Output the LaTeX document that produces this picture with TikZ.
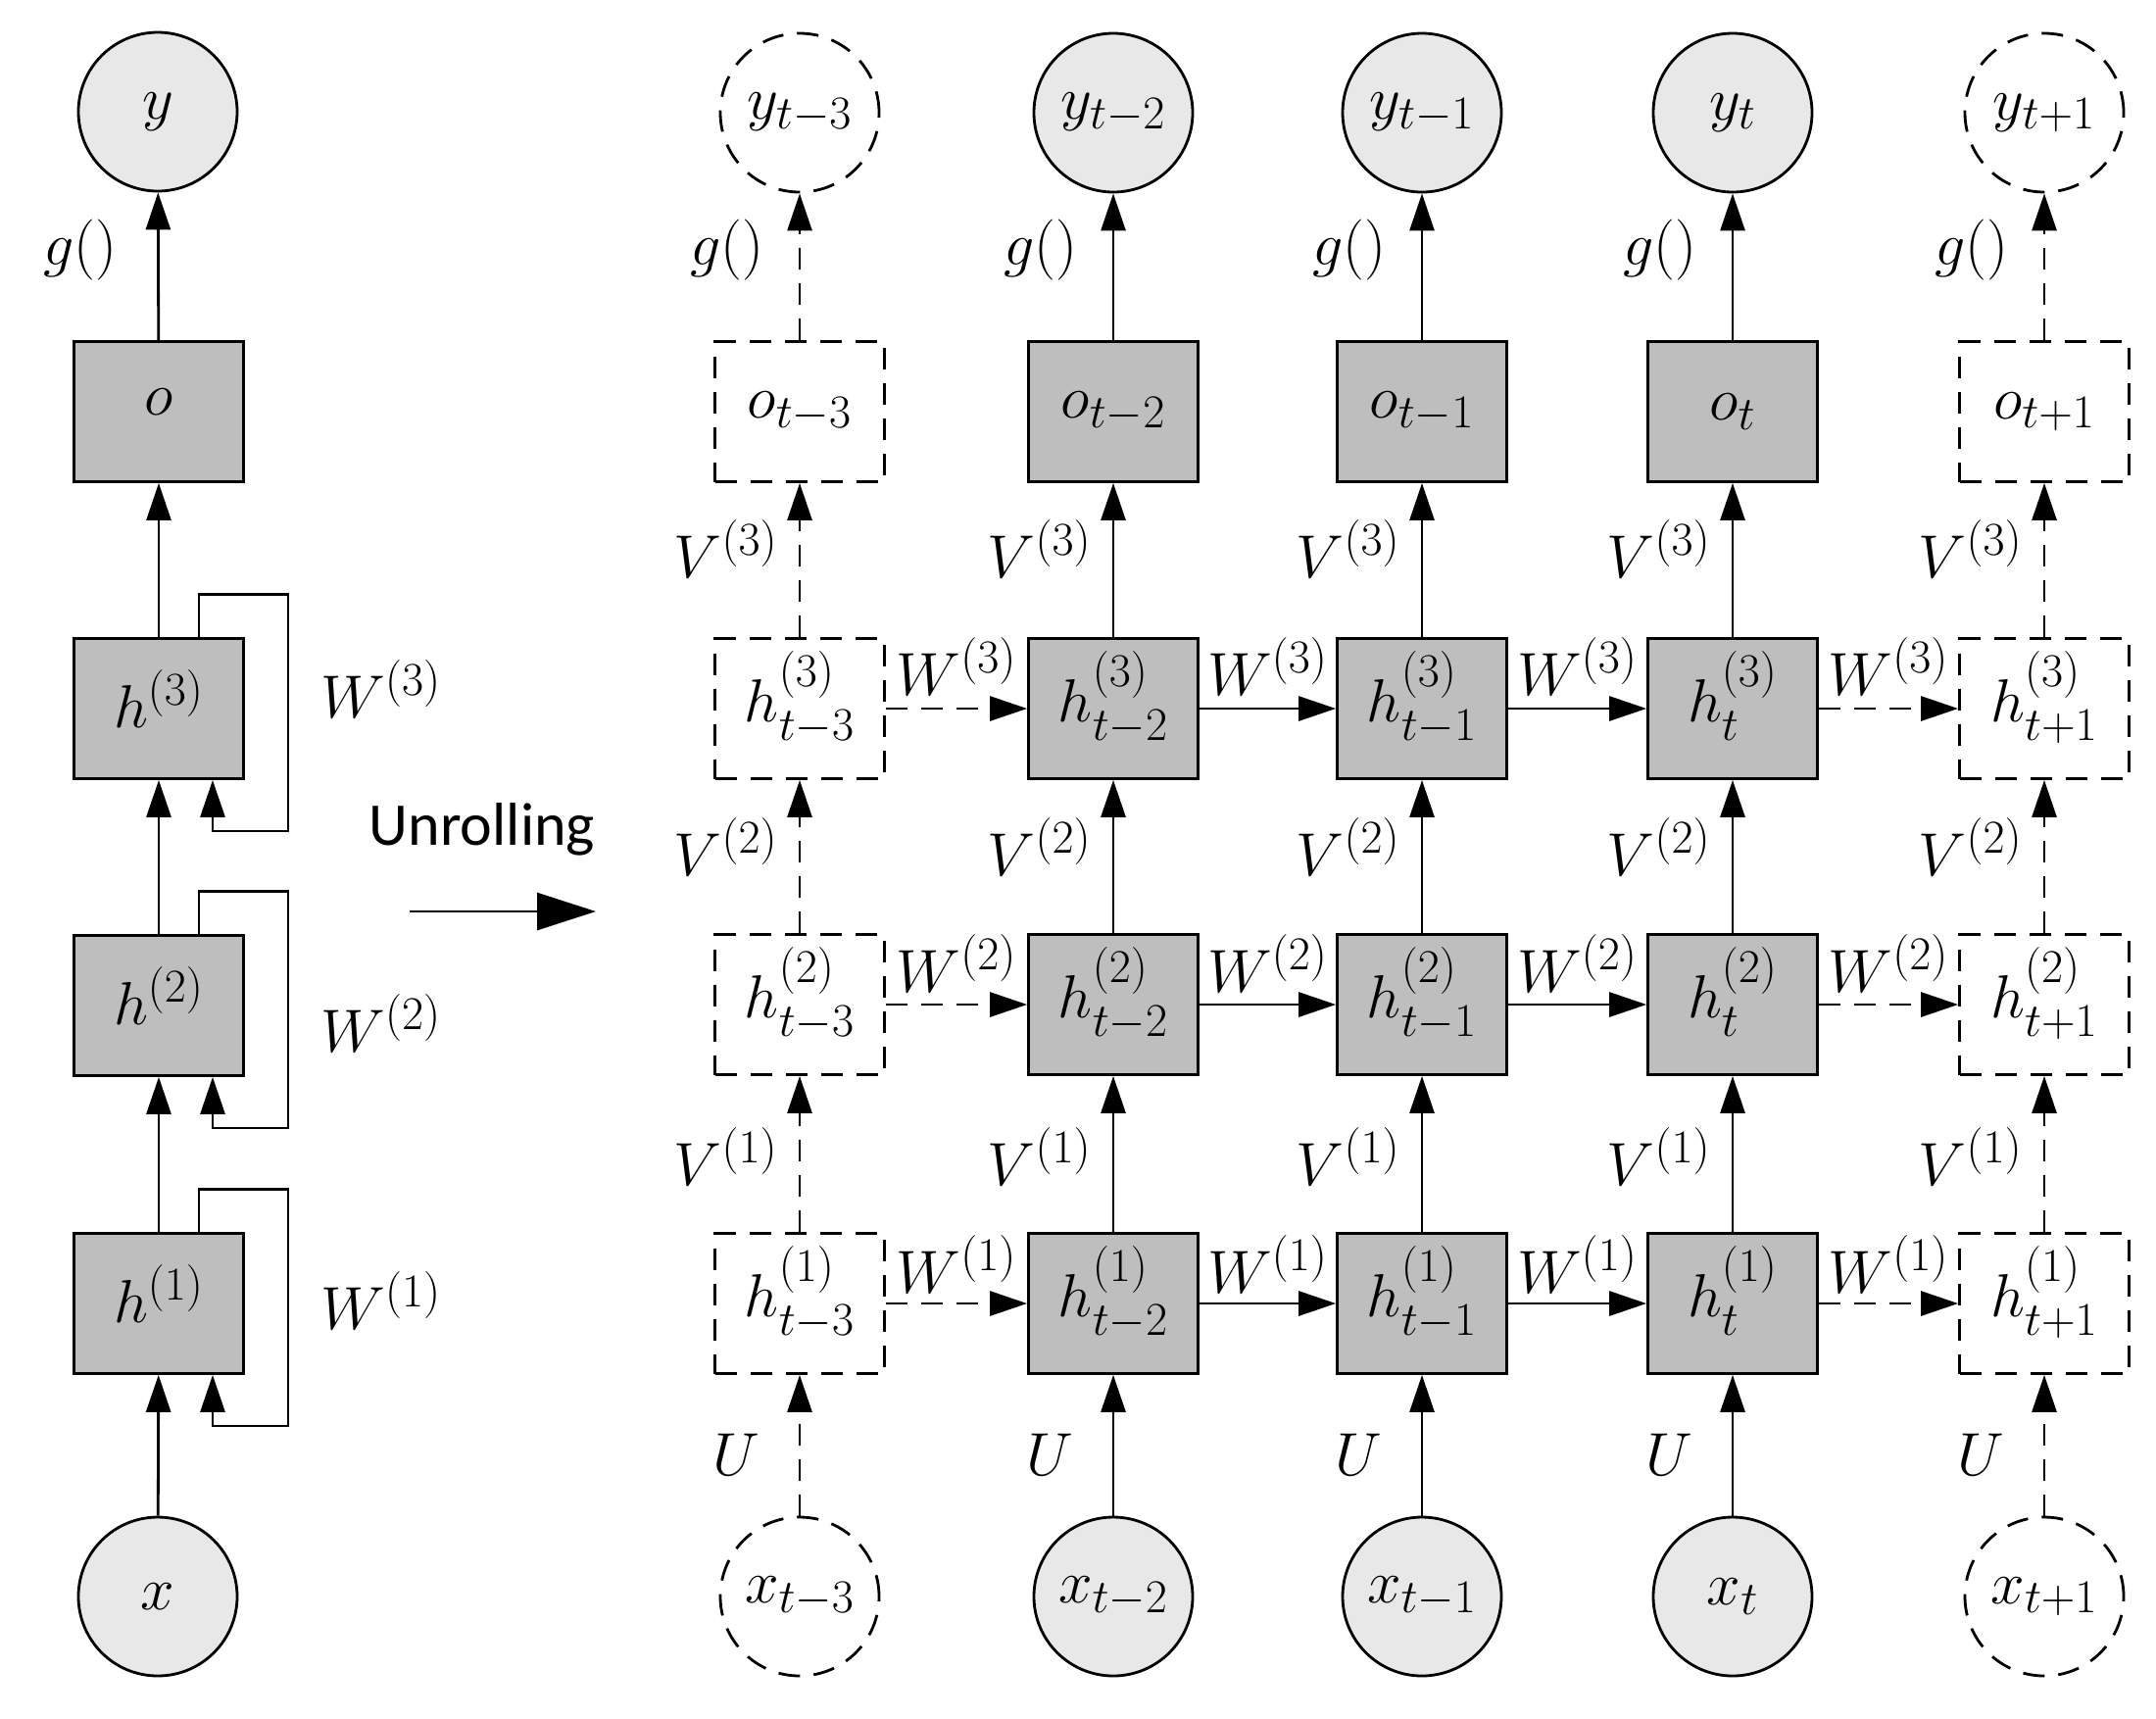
\RequirePackage{fix-cm}
\documentclass[tikz,border=0pt]{standalone}
\usepackage[no-math]{fontspec}
\newfontfamily\calib{Carlito}
\DeclareMathSizes{31}{31}{24}{17}
\usetikzlibrary{arrows.meta}
\definecolor{boxgray}{RGB}{190,190,190}
\definecolor{circgray}{RGB}{232,232,232}
\newcommand\hsupsub[2]{h^{\raisebox{6.5pt}{$\scriptstyle(#1)$}}_{\smash{\raisebox{-2pt}{$\scriptstyle #2$}}}}
\begin{document}
\begin{tikzpicture}[x=0.5pt,y=-0.5pt,
  every node/.style={font=\fontsize{31}{37}\selectfont},
  dsh/.style={dash pattern=on 11pt off 7pt},
  gbox/.style={draw, fill=boxgray, line width=1.4pt, minimum width=86.5pt, minimum height=71.5pt, inner sep=0pt},
  dbox/.style={draw, dsh, line width=1.4pt, minimum width=86.5pt, minimum height=71.5pt, inner sep=0pt},
  hlab/.style={text height=20pt, text depth=7pt},
  lhlab/.style={text height=31pt, text depth=12pt},
  gcirc/.style={circle, draw, fill=circgray, line width=1.4pt, minimum size=81pt, inner sep=0pt},
  dcirc/.style={circle, draw, dsh, line width=1.4pt, minimum size=81pt, inner sep=0pt},
  arr/.style={-{Triangle[length=19pt,width=12.5pt]}, line width=1.4pt},
  darr/.style={arr, dsh},
  elab/.style={anchor=east, inner sep=0pt},
  wlab/.style={inner sep=0pt}
]
\useasboundingbox (0,0) rectangle (2200,1753);

% ---------------- left (folded) network ----------------
\node[gcirc] (Ly) at (161,114) {$y$};
\node[gbox] (Lo) at (162,420) {\raisebox{10pt}{$o$}};
\node[gbox, lhlab] (Lh3) at (162,723) {$h^{(3)}$};
\node[gbox, lhlab] (Lh2) at (162,1026) {$h^{(2)}$};
\node[gbox, lhlab] (Lh1) at (162,1330) {$h^{(1)}$};
\node[gcirc] (Lx) at (161,1629) {$x$};

\draw[arr] (Lo) -- (Ly);
\draw[arr] (Lh3) -- (Lo);
\draw[arr] (Lh2) -- (Lh3);
\draw[arr] (Lh1) -- (Lh2);
\draw[arr] (Lx) -- (Lh1);

\foreach \n in {Lh3,Lh2,Lh1}{
  \draw[arr] ([xshift=20.5pt]\n.north) -- ++(0,-44) -- ++(91,0)
    |- ([xshift=27.5pt,yshift=-26pt]\n.south) -- ([xshift=27.5pt]\n.south);
}

\node[elab] (Lg) at (120,255) {$g()$};
\node[wlab, anchor=west] (LW3) at (327,703) {$W^{(3)}$};
\node[wlab, anchor=west] (LW2) at (327,1044) {$W^{(2)}$};
\node[wlab, anchor=west] (LW1) at (327,1327) {$W^{(1)}$};

% ---------------- unrolling arrow ----------------
\node[font=\calib\fontsize{31}{37}\selectfont, anchor=base, inner sep=0pt] (unr) at (492,862) {Unrolling};
\coordinate (ua) at (418,930);
\coordinate (ub) at (608,930);
\draw[line width=1.4pt, -{Triangle[length=30pt,width=19pt]}] (ua) -- (ub);

% ---------------- unrolled network ----------------
% outputs y
\node[dcirc] (y1) at (816,115) {$y_{t-3}$};
\node[gcirc] (y2) at (1136,115) {$y_{t-2}$};
\node[gcirc] (y3) at (1451,115) {$y_{t-1}$};
\node[gcirc] (y4) at (1768,115) {$y_{t}$};
\node[dcirc] (y5) at (2086,115) {$y_{t+1}$};
% o
\node[dbox] (o1) at (816,420) {$o_{t-3}$};
\node[gbox] (o2) at (1136,420) {$o_{t-2}$};
\node[gbox] (o3) at (1451,420) {$o_{t-1}$};
\node[gbox] (o4) at (1768,420) {$o_{t}$};
\node[dbox] (o5) at (2086,420) {$o_{t+1}$};
% h3
\node[dbox, hlab] (ha1) at (816,723) {$\hsupsub{3}{t-3}$};
\node[gbox, hlab] (ha2) at (1136,723) {$\hsupsub{3}{t-2}$};
\node[gbox, hlab] (ha3) at (1451,723) {$\hsupsub{3}{t-1}$};
\node[gbox, hlab] (ha4) at (1768,723) {$\hsupsub{3}{t}$};
\node[dbox, hlab] (ha5) at (2086,723) {$\hsupsub{3}{t+1}$};
% h2
\node[dbox, hlab] (hb1) at (816,1025) {$\hsupsub{2}{t-3}$};
\node[gbox, hlab] (hb2) at (1136,1025) {$\hsupsub{2}{t-2}$};
\node[gbox, hlab] (hb3) at (1451,1025) {$\hsupsub{2}{t-1}$};
\node[gbox, hlab] (hb4) at (1768,1025) {$\hsupsub{2}{t}$};
\node[dbox, hlab] (hb5) at (2086,1025) {$\hsupsub{2}{t+1}$};
% h1
\node[dbox, hlab] (hc1) at (816,1330) {$\hsupsub{1}{t-3}$};
\node[gbox, hlab] (hc2) at (1136,1330) {$\hsupsub{1}{t-2}$};
\node[gbox, hlab] (hc3) at (1451,1330) {$\hsupsub{1}{t-1}$};
\node[gbox, hlab] (hc4) at (1768,1330) {$\hsupsub{1}{t}$};
\node[dbox, hlab] (hc5) at (2086,1330) {$\hsupsub{1}{t+1}$};
% x
\node[dcirc] (x1) at (816,1629) {$x_{t-3}$};
\node[gcirc] (x2) at (1136,1629) {$x_{t-2}$};
\node[gcirc] (x3) at (1451,1629) {$x_{t-1}$};
\node[gcirc] (x4) at (1768,1629) {$x_{t}$};
\node[dcirc] (x5) at (2086,1629) {$x_{t+1}$};

% vertical connectors
\foreach \c/\s in {1/darr,2/arr,3/arr,4/arr,5/darr}{
  \draw[\s] (o\c) -- (y\c);
  \draw[\s] (ha\c) -- (o\c);
  \draw[\s] (hb\c) -- (ha\c);
  \draw[\s] (hc\c) -- (hb\c);
  \draw[\s] (x\c) -- (hc\c);
}

% horizontal connectors
\foreach \r in {ha,hb,hc}{
  \draw[darr] (\r1) -- (\r2);
  \draw[arr] (\r2) -- (\r3);
  \draw[arr] (\r3) -- (\r4);
  \draw[darr] (\r4) -- (\r5);
}

% labels on vertical connectors
\foreach \c/\xx in {1/816,2/1136,3/1451,4/1768,5/2086}{
  \node[elab] (g\c) at (\xx-36,255) {$g()$};
  \node[elab] (va\c) at (\xx-22,560) {$V^{(3)}$};
  \node[elab] (vb\c) at (\xx-22,864) {$V^{(2)}$};
  \node[elab] (vc\c) at (\xx-22,1180) {$V^{(1)}$};
  \node[elab] (u\c) at (\xx-40,1484) {$U$};
}

% labels on horizontal connectors
\foreach \k/\xx in {1/976,2/1293.5,3/1609.5,4/1927}{
  \node[wlab] (wa\k) at (\xx,680) {$W^{(3)}$};
  \node[wlab] (wb\k) at (\xx,983) {$W^{(2)}$};
  \node[wlab] (wc\k) at (\xx,1290) {$W^{(1)}$};
}
\end{tikzpicture}
\end{document}
